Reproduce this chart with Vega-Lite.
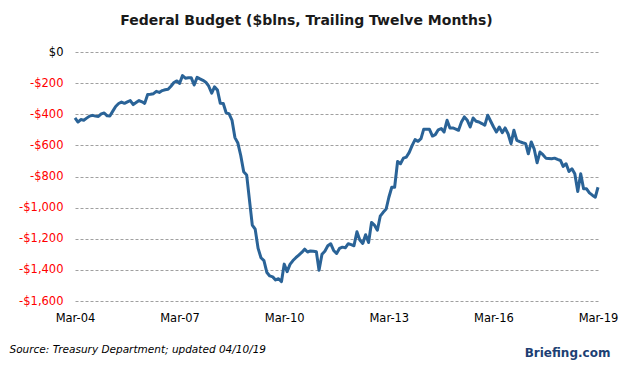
{
  "$schema": "https://vega.github.io/schema/vega-lite/v6.json",
  "autosize": {"type": "none"},
  "padding": {"left": 75, "top": 52, "right": 28, "bottom": 66},
  "width": 523,
  "height": 249,
  "background": "white",
  "config": {"view": {"stroke": null}, "font": "DejaVu Sans"},
  "title": {"text": "Federal Budget ($blns, Trailing Twelve Months)", "fontSize": 14, "fontWeight": "bold", "color": "#1a1a1a", "anchor": "middle", "dx": -30, "offset": 18, "font": "DejaVu Sans"},
  "data": {"values": [
    {"date": "2004/03/01", "v": -424}, {"date": "2004/04/01", "v": -450}, {"date": "2004/05/01", "v": -434}, {"date": "2004/06/01", "v": -438},
    {"date": "2004/07/01", "v": -425}, {"date": "2004/08/01", "v": -412}, {"date": "2004/09/01", "v": -407}, {"date": "2004/10/01", "v": -412},
    {"date": "2004/11/01", "v": -414}, {"date": "2004/12/01", "v": -398}, {"date": "2005/01/01", "v": -392}, {"date": "2005/02/01", "v": -410},
    {"date": "2005/03/01", "v": -411}, {"date": "2005/04/01", "v": -380}, {"date": "2005/05/01", "v": -350}, {"date": "2005/06/01", "v": -331},
    {"date": "2005/07/01", "v": -322}, {"date": "2005/08/01", "v": -330}, {"date": "2005/09/01", "v": -320}, {"date": "2005/10/01", "v": -312},
    {"date": "2005/11/01", "v": -338}, {"date": "2005/12/01", "v": -325}, {"date": "2006/01/01", "v": -312}, {"date": "2006/02/01", "v": -320},
    {"date": "2006/03/01", "v": -330}, {"date": "2006/04/01", "v": -273}, {"date": "2006/05/01", "v": -272}, {"date": "2006/06/01", "v": -268},
    {"date": "2006/07/01", "v": -253}, {"date": "2006/08/01", "v": -260}, {"date": "2006/09/01", "v": -248}, {"date": "2006/10/01", "v": -243},
    {"date": "2006/11/01", "v": -240}, {"date": "2006/12/01", "v": -220}, {"date": "2007/01/01", "v": -196}, {"date": "2007/02/01", "v": -186},
    {"date": "2007/03/01", "v": -202}, {"date": "2007/04/01", "v": -152}, {"date": "2007/05/01", "v": -168}, {"date": "2007/06/01", "v": -165},
    {"date": "2007/07/01", "v": -165}, {"date": "2007/08/01", "v": -212}, {"date": "2007/09/01", "v": -163}, {"date": "2007/10/01", "v": -173},
    {"date": "2007/11/01", "v": -182}, {"date": "2007/12/01", "v": -194}, {"date": "2008/01/01", "v": -220}, {"date": "2008/02/01", "v": -265},
    {"date": "2008/03/01", "v": -224}, {"date": "2008/04/01", "v": -245}, {"date": "2008/05/01", "v": -330}, {"date": "2008/06/01", "v": -331},
    {"date": "2008/07/01", "v": -390}, {"date": "2008/08/01", "v": -398}, {"date": "2008/09/01", "v": -440}, {"date": "2008/10/01", "v": -550},
    {"date": "2008/11/01", "v": -585}, {"date": "2008/12/01", "v": -665}, {"date": "2009/01/01", "v": -770}, {"date": "2009/02/01", "v": -790},
    {"date": "2009/03/01", "v": -944}, {"date": "2009/04/01", "v": -1112}, {"date": "2009/05/01", "v": -1138}, {"date": "2009/06/01", "v": -1262},
    {"date": "2009/07/01", "v": -1322}, {"date": "2009/08/01", "v": -1340}, {"date": "2009/09/01", "v": -1417}, {"date": "2009/10/01", "v": -1439},
    {"date": "2009/11/01", "v": -1445}, {"date": "2009/12/01", "v": -1465}, {"date": "2010/01/01", "v": -1457}, {"date": "2010/02/01", "v": -1475},
    {"date": "2010/03/01", "v": -1363}, {"date": "2010/04/01", "v": -1411}, {"date": "2010/05/01", "v": -1365}, {"date": "2010/06/01", "v": -1340},
    {"date": "2010/07/01", "v": -1322}, {"date": "2010/08/01", "v": -1305}, {"date": "2010/09/01", "v": -1288}, {"date": "2010/10/01", "v": -1267},
    {"date": "2010/11/01", "v": -1285}, {"date": "2010/12/01", "v": -1278}, {"date": "2011/01/01", "v": -1280}, {"date": "2011/02/01", "v": -1284},
    {"date": "2011/03/01", "v": -1402}, {"date": "2011/04/01", "v": -1300}, {"date": "2011/05/01", "v": -1280}, {"date": "2011/06/01", "v": -1245},
    {"date": "2011/07/01", "v": -1232}, {"date": "2011/08/01", "v": -1275}, {"date": "2011/09/01", "v": -1295}, {"date": "2011/10/01", "v": -1262},
    {"date": "2011/11/01", "v": -1254}, {"date": "2011/12/01", "v": -1258}, {"date": "2012/01/01", "v": -1232}, {"date": "2012/02/01", "v": -1238},
    {"date": "2012/03/01", "v": -1245}, {"date": "2012/04/01", "v": -1155}, {"date": "2012/05/01", "v": -1208}, {"date": "2012/06/01", "v": -1230},
    {"date": "2012/07/01", "v": -1174}, {"date": "2012/08/01", "v": -1224}, {"date": "2012/09/01", "v": -1095}, {"date": "2012/10/01", "v": -1112},
    {"date": "2012/11/01", "v": -1145}, {"date": "2012/12/01", "v": -1055}, {"date": "2013/01/01", "v": -1030}, {"date": "2013/02/01", "v": -1009},
    {"date": "2013/03/01", "v": -935}, {"date": "2013/04/01", "v": -869}, {"date": "2013/05/01", "v": -869}, {"date": "2013/06/01", "v": -703},
    {"date": "2013/07/01", "v": -718}, {"date": "2013/08/01", "v": -682}, {"date": "2013/09/01", "v": -675}, {"date": "2013/10/01", "v": -645},
    {"date": "2013/11/01", "v": -600}, {"date": "2013/12/01", "v": -563}, {"date": "2014/01/01", "v": -574}, {"date": "2014/02/01", "v": -557},
    {"date": "2014/03/01", "v": -497}, {"date": "2014/04/01", "v": -497}, {"date": "2014/05/01", "v": -497}, {"date": "2014/06/01", "v": -540},
    {"date": "2014/07/01", "v": -531}, {"date": "2014/08/01", "v": -500}, {"date": "2014/09/01", "v": -492}, {"date": "2014/10/01", "v": -514},
    {"date": "2014/11/01", "v": -439}, {"date": "2014/12/01", "v": -488}, {"date": "2015/01/01", "v": -488}, {"date": "2015/02/01", "v": -495},
    {"date": "2015/03/01", "v": -503}, {"date": "2015/04/01", "v": -450}, {"date": "2015/05/01", "v": -417}, {"date": "2015/06/01", "v": -439},
    {"date": "2015/07/01", "v": -482}, {"date": "2015/08/01", "v": -424}, {"date": "2015/09/01", "v": -445}, {"date": "2015/10/01", "v": -450},
    {"date": "2015/11/01", "v": -460}, {"date": "2015/12/01", "v": -471}, {"date": "2016/01/01", "v": -406}, {"date": "2016/02/01", "v": -445},
    {"date": "2016/03/01", "v": -480}, {"date": "2016/04/01", "v": -514}, {"date": "2016/05/01", "v": -482}, {"date": "2016/06/01", "v": -518},
    {"date": "2016/07/01", "v": -488}, {"date": "2016/08/01", "v": -525}, {"date": "2016/09/01", "v": -589}, {"date": "2016/10/01", "v": -503},
    {"date": "2016/11/01", "v": -568}, {"date": "2016/12/01", "v": -576}, {"date": "2017/01/01", "v": -583}, {"date": "2017/02/01", "v": -589},
    {"date": "2017/03/01", "v": -654}, {"date": "2017/04/01", "v": -578}, {"date": "2017/05/01", "v": -622}, {"date": "2017/06/01", "v": -712},
    {"date": "2017/07/01", "v": -643}, {"date": "2017/08/01", "v": -660}, {"date": "2017/09/01", "v": -682}, {"date": "2017/10/01", "v": -684},
    {"date": "2017/11/01", "v": -686}, {"date": "2017/12/01", "v": -682}, {"date": "2018/01/01", "v": -690}, {"date": "2018/02/01", "v": -697},
    {"date": "2018/03/01", "v": -735}, {"date": "2018/04/01", "v": -718}, {"date": "2018/05/01", "v": -768}, {"date": "2018/06/01", "v": -750},
    {"date": "2018/07/01", "v": -783}, {"date": "2018/08/01", "v": -897}, {"date": "2018/09/01", "v": -783}, {"date": "2018/10/01", "v": -879},
    {"date": "2018/11/01", "v": -879}, {"date": "2018/12/01", "v": -905}, {"date": "2019/01/01", "v": -920}, {"date": "2019/02/01", "v": -933},
    {"date": "2019/03/01", "v": -869}
  ]},
  "resolve": {"axis": {"y": "independent", "x": "independent"}},
  "layer": [
    {
      "mark": {"type": "line", "color": "#2a6397", "strokeWidth": 3, "strokeJoin": "round"},
      "encoding": {
        "x": {
          "field": "date", "type": "temporal",
          "scale": {"domain": [{"year": 2004, "month": 3, "date": 1}, {"year": 2019, "month": 3, "date": 1}], "nice": false},
          "axis": {
            "values": [{"year": 2004, "month": 3, "date": 1}, {"year": 2007, "month": 3, "date": 1}, {"year": 2010, "month": 3, "date": 1}, {"year": 2013, "month": 3, "date": 1}, {"year": 2016, "month": 3, "date": 1}, {"year": 2019, "month": 3, "date": 1}],
            "format": "%b-%y", "grid": false, "domain": false, "ticks": false,
            "labelPadding": 11, "labelFontSize": 11.5, "labelColor": "#000", "labelFlush": false, "labelOverlap": false,
            "title": "Source: Treasury Department; updated 04/10/19",
            "titleFontStyle": "italic", "titleFontWeight": "normal", "titleFontSize": 10.5, "titleColor": "#000",
            "titleX": -66, "titleY": 48, "titleAlign": "left", "titleBaseline": "middle"
          }
        },
        "y": {
          "field": "v", "type": "quantitative",
          "scale": {"domain": [-1600, 0], "nice": false},
          "axis": {
            "values": [0, -200, -400, -600, -800, -1000, -1200, -1400, -1600],
            "labelExpr": "datum.value == 0 ? '$0' : '-$' + format(-datum.value, ',')",
            "labelColor": {"condition": {"test": "datum.value < 0", "value": "#ff0000"}, "value": "#000000"},
            "labelFontSize": 11.5, "labelPadding": 12,
            "domain": false, "ticks": false,
            "grid": true, "gridColor": "#a0a0a0", "gridDash": [3, 2], "gridWidth": 1,
            "title": null
          }
        }
      }
    },
    {
      "mark": {"type": "line", "strokeOpacity": 0},
      "encoding": {
        "x": {"field": "date", "type": "temporal", "axis": null},
        "y": {
          "field": "v", "type": "quantitative",
          "axis": {
            "orient": "right", "labels": false, "domain": false, "ticks": false, "grid": false,
            "title": "Briefing.com", "titleAngle": 0, "titleX": -31, "titleY": 300,
            "titleAlign": "center", "titleBaseline": "middle",
            "titleFontSize": 12, "titleFontWeight": "bold", "titleColor": "#1d3f73"
          }
        }
      }
    }
  ]
}
